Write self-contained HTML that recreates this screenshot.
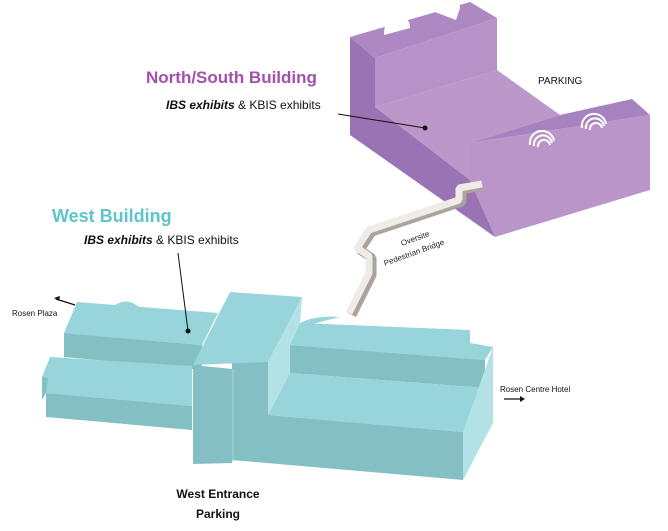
<!DOCTYPE html>
<html><head><meta charset="utf-8"><style>
html,body{margin:0;padding:0;background:#fff;}
svg{display:block;font-family:"Liberation Sans",sans-serif;}
</style></head><body>
<svg width="668" height="531" viewBox="0 0 668 531" xmlns="http://www.w3.org/2000/svg">
<!-- Purple building -->
<polygon points="350,37 375,58 375,107 470,180 495,237 350,135" fill="#9a73b4"/>
<polygon points="375,107 497,70 560,115 470,143 470,180" fill="#bb97ca"/>
<polygon points="350,37 470,2 497,18 375,58" fill="#ad88c3"/>
<polygon points="375,58 497,18 497,70 375,107" fill="#b792c9"/>
<path d="M384,35 Q384,16 397,16 Q410,16 410,28 Z" fill="#fff"/>
<path d="M435,12 Q436,0 447,0 Q460,0 460,8 L456,20 Z" fill="#fff"/>
<polygon points="470,143 560,115 632,99 650,115" fill="#a683bf"/>
<polygon points="470,143 650,115 650,190 495,237 470,180" fill="#b995c9"/>
<g fill="none" stroke="#fff" stroke-width="2">
<path d="M530,145 a12,12 0 0 1 24,-4"/><path d="M534,146 a9,9 0 0 1 18,-3"/><path d="M538,147 a6,6 0 0 1 12,-2"/>
<path d="M582,128 a12,12 0 0 1 24,-4"/><path d="M586,129 a9,9 0 0 1 18,-3"/><path d="M590,130 a6,6 0 0 1 12,-2"/>
</g>
<!-- bridge -->
<path d="M482,186 L462,190 L462,202 L372,232 L360,250 L372,258 L372,275 L352,315" fill="none" stroke="#aaa39e" stroke-width="9" stroke-linejoin="bevel"/>
<path d="M482,184 L459,188 L459,200 L369,230 L357,248 L369,256 L369,273 L349,313" fill="none" stroke="#efece8" stroke-width="7" stroke-linejoin="bevel"/>
<text x="0" y="0" font-size="8" fill="#222" transform="translate(402,246) rotate(-20)">Oversite</text>
<text x="0" y="0" font-size="8" fill="#222" transform="translate(385,266) rotate(-20)">Pedestrian Bridge</text>
<!-- West building -->
<polygon points="77,302 218,313 202,345 64,333" fill="#97d5da"/>
<path d="M115,305 q12,-8 24,2 z" fill="#97d5da"/>
<polygon points="64,333 202,345 202,370 64,357" fill="#84c0c3"/>
<polygon points="50,357 192,366 192,406 46,393 42,377" fill="#97d5da"/>
<polygon points="42,377 48,378 46,393 42,400" fill="#84c0c3"/>
<polygon points="46,393 192,406 192,430 46,417" fill="#84c0c3"/>
<polygon points="300,323 470,330 470,343 493,347 485,360 290,345" fill="#97d5da"/>
<path d="M300,323 q15,-8 40,-6 l-40,10 z" fill="#97d5da"/>
<polygon points="290,345 485,360 485,388 290,373" fill="#84c0c3"/>
<polygon points="268,415 290,373 485,388 463,432" fill="#97d5da"/>
<polygon points="463,432 493,347 493,423 463,480" fill="#b2e2e6"/>
<polygon points="302,297 268,362 268,415 290,373 290,345 300,323" fill="#b2e2e6"/>
<polygon points="232,362 268,362 268,415 463,432 463,480 232,460" fill="#84c0c3"/>
<polygon points="230,292 302,297 268,362 193,365" fill="#97d5da"/>
<polygon points="193,365 232,369 232,463 193,464" fill="#84c0c3"/>
<line x1="233" y1="369" x2="233" y2="462" stroke="#a6d6d9" stroke-width="1"/>
<!-- texts -->
<text x="146" y="83" font-size="17" font-weight="bold" fill="#a24fae">North/South Building</text>
<text x="166" y="109" font-size="12" fill="#111"><tspan font-weight="bold" font-style="italic">IBS exhibits</tspan> &amp; KBIS exhibits</text>
<line x1="338" y1="114" x2="425" y2="128" stroke="#111" stroke-width="1"/>
<circle cx="425" cy="128" r="2.5" fill="#111"/>
<text x="538" y="84" font-size="10" fill="#111">PARKING</text>
<text x="52" y="222" font-size="18" font-weight="bold" fill="#5cc6c8">West Building</text>
<text x="84" y="244" font-size="12" fill="#111"><tspan font-weight="bold" font-style="italic">IBS exhibits</tspan> &amp; KBIS exhibits</text>
<line x1="178" y1="253" x2="188" y2="331" stroke="#111" stroke-width="1"/>
<circle cx="188" cy="331" r="2.5" fill="#111"/>
<text x="12" y="316" font-size="8" fill="#111">Rosen Plaza</text>
<line x1="75" y1="305" x2="56" y2="299" stroke="#111" stroke-width="1.2"/>
<path d="M54,298 l6,-2 l-1,5 z" fill="#111"/>
<text x="500" y="392" font-size="8" fill="#111">Rosen Centre Hotel</text>
<line x1="504" y1="399" x2="522" y2="399" stroke="#111" stroke-width="1.2"/>
<path d="M525,399 l-5,-3 l0,6 z" fill="#111"/>
<text x="218" y="498" font-size="12" font-weight="bold" fill="#111" text-anchor="middle">West Entrance</text>
<text x="218" y="518" font-size="12" font-weight="bold" fill="#111" text-anchor="middle">Parking</text>
</svg>
</body></html>
